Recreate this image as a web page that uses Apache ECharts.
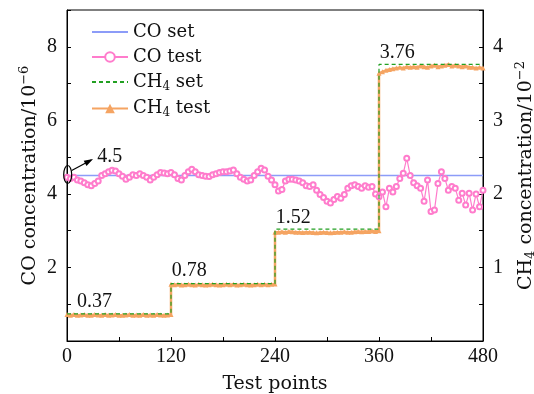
<!DOCTYPE html>
<html><head><meta charset="utf-8">
<script src="https://cdn.jsdelivr.net/npm/echarts@6/dist/echarts.min.js"></script>
<style>html,body{margin:0;padding:0;background:#fff}#c{width:534px;height:394px}</style>
</head><body><div id="c"></div>
<script>
// ---- data ----
const xTicks = [0, 120, 240, 360, 480];
const coSetValue = 4.5;
const coTestStep = 4;
const coTest = [4.45,4.42,4.45,4.38,4.35,4.3,4.25,4.22,4.28,4.35,4.5,4.55,4.6,4.64,4.62,4.55,4.48,4.4,4.45,4.52,
4.5,4.55,4.5,4.45,4.38,4.45,4.52,4.58,4.57,4.55,4.58,4.52,4.42,4.38,4.5,4.6,4.67,4.6,4.52,4.5,
4.48,4.47,4.52,4.55,4.58,4.6,4.6,4.62,4.65,4.55,4.45,4.4,4.35,4.38,4.5,4.6,4.7,4.65,4.48,4.38,
4.25,4.08,4.12,4.35,4.4,4.4,4.38,4.35,4.3,4.22,4.2,4.25,4.1,3.98,3.9,3.8,3.75,3.85,3.93,3.88,
3.98,4.15,4.22,4.25,4.2,4.15,4.22,4.18,4.2,4.0,3.92,4.05,3.65,4.15,4.05,4.2,4.42,4.56,4.97,4.5,
4.3,4.22,4.15,3.8,4.38,3.52,3.56,4.28,4.6,4.42,4.1,4.2,4.15,3.83,4.02,3.7,4.02,3.56,4.0,3.65,4.1];
const ch4SetLevels = [0.37, 0.78, 1.52, 3.76];
const ch4SegmentStarts = [0, 120, 240, 360];
const ch4TestStep = 4;
const ch4Test1 = [0.36,0.35,0.36,0.35,0.355,0.36,0.35,0.35,0.36,0.355,0.35,0.36,0.35,0.355,0.36,0.35,0.35,0.355,0.36,0.35,0.355,0.35,0.36,0.35,0.355,0.35,0.36,0.355,0.35,0.355,0.36];
const ch4Test2 = [0.77,0.765,0.77,0.76,0.765,0.77,0.765,0.76,0.77,0.765,0.76,0.765,0.77,0.765,0.76,0.765,0.77,0.765,0.77,0.76,0.765,0.77,0.765,0.76,0.765,0.77,0.765,0.77,0.765,0.77,0.775];
const ch4Test3 = [1.48,1.48,1.485,1.48,1.49,1.485,1.48,1.48,1.475,1.48,1.48,1.475,1.47,1.475,1.48,1.475,1.47,1.475,1.48,1.48,1.485,1.48,1.48,1.485,1.49,1.485,1.49,1.49,1.495,1.49,1.5];
const ch4Test4 = [3.64,3.66,3.68,3.69,3.7,3.71,3.72,3.71,3.73,3.72,3.73,3.72,3.74,3.73,3.72,3.74,3.75,3.73,3.74,3.75,3.76,3.74,3.75,3.74,3.73,3.74,3.72,3.72,3.71,3.72,3.71];
const annotations = [
  {text:'0.37', x:11.5, y:0.53, axis:1},
  {text:'0.78', x:121, y:0.95, axis:1},
  {text:'1.52', x:241, y:1.67, axis:1},
  {text:'3.76', x:361, y:3.915, axis:1},
  {text:'4.5', x:35, y:5.0, axis:0}
];

// ---- build series data ----
const coTestData = coTest.map((v,i)=>[i*coTestStep, v]);
const coSetData = [[0, coSetValue],[480, coSetValue]];
const ch4SetData = [];
ch4SegmentStarts.forEach((s,i)=>{ ch4SetData.push([s, ch4SetLevels[i]]); ch4SetData.push([s+120, ch4SetLevels[i]]); });
const ch4TestData = [];
[ch4Test1,ch4Test2,ch4Test3,ch4Test4].forEach((arr,k)=>{
  arr.forEach((v,i)=>ch4TestData.push([ch4SegmentStarts[k]+i*ch4TestStep, v]));
});

const FONT = 'DejaVu Serif';
const NUMFONT = 'Liberation Serif';
const chart = echarts.init(document.getElementById('c'), null, {renderer:'canvas'});
const axisCommon = {
  axisLine:{show:true, lineStyle:{color:'#000', width:1}},
  axisTick:{show:true, inside:true, length:4, lineStyle:{color:'#000'}},
  splitLine:{show:false},
  axisLabel:{color:'#111', fontFamily:NUMFONT, fontSize:20}
};
const COLORS = {coSet:'#8c9cf8', coTest:'#ff7ccc', ch4Set:'#22a022', ch4Test:'#f5a462'};
const nameRich = {
  n:{fontFamily:FONT, fontSize:19, fill:'#111', color:'#111'},
  s:{fontFamily:FONT, fontSize:13, fill:'#111', color:'#111', padding:[0,0,11,0]},
  b:{fontFamily:FONT, fontSize:13, fill:'#111', color:'#111', padding:[9,0,0,0]}
};
chart.setOption({
  animation:false,
  grid:{left:67, right:51, top:10, bottom:53, show:true, borderColor:'#000', borderWidth:1, containLabel:false, outerBoundsMode:'none'},
  legend:{
    orient:'vertical', left:86, top:18, itemWidth:36, itemHeight:12, itemGap:7,
    textStyle:{fontFamily:FONT, fontSize:18, color:'#111',
      rich:{n:{fontFamily:FONT, fontSize:18, color:'#111'}, s:{fontFamily:FONT, fontSize:12, color:'#111', padding:[9,0,0,0]}}},
    formatter: function(name){
      if(name.indexOf('CH4')===0) return '{n|CH}{s|4}{n|'+name.slice(3)+'}';
      return '{n|'+name+'}';
    },
    data:[{name:'CO set', itemStyle:{opacity:0}},{name:'CO test'},{name:'CH4 set', itemStyle:{opacity:0}},{name:'CH4 test'}]
  },
  xAxis:Object.assign({}, axisCommon, {
    type:'value', min:0, max:480, interval:60,
    name:'Test points', nameLocation:'middle', nameGap:34,
    nameTextStyle:{fontFamily:FONT, fontSize:19, color:'#111'},
    axisLabel:Object.assign({}, axisCommon.axisLabel, {margin:6, formatter:v=>xTicks.indexOf(v)>=0?String(v):''})
  }),
  yAxis:[
    Object.assign({}, axisCommon, {
      type:'value', min:0, max:9, interval:1,
      axisLabel:Object.assign({}, axisCommon.axisLabel, {margin:10, formatter:v=>(v%2===0&&v>0)?String(v):''})
    }),
    Object.assign({}, axisCommon, {
      type:'value', min:0, max:4.5, interval:0.5, position:'right',
      axisLabel:Object.assign({}, axisCommon.axisLabel, {margin:10, formatter:v=>(Number.isInteger(v)&&v>0)?String(v):''})
    })
  ],
  series:[
    {name:'CO set', type:'line', data:coSetData, symbol:'circle', showSymbol:false, lineStyle:{color:COLORS.coSet, width:1.3}, itemStyle:{color:COLORS.coSet}, z:2},
    {name:'CO test', type:'line', data:coTestData, symbol:'emptyCircle', symbolSize:5,
      lineStyle:{color:COLORS.coTest, width:1.2}, itemStyle:{color:COLORS.coTest, borderWidth:1.2}, z:3},
    {name:'CH4 test', type:'line', yAxisIndex:1, data:ch4TestData, symbol:'triangle', symbolSize:5,
      lineStyle:{color:COLORS.ch4Test, width:2.5}, itemStyle:{color:COLORS.ch4Test}, z:3},
    {name:'CH4 set', type:'line', yAxisIndex:1, data:ch4SetData, symbol:'circle', showSymbol:false,
      lineStyle:{color:COLORS.ch4Set, width:1.2, type:[4,3]}, itemStyle:{color:COLORS.ch4Set}, z:4}
  ]
});

// annotations, axis titles & ellipse/arrow placed via the library's coordinate conversion
const g = [];
annotations.forEach(a=>{
  const p = chart.convertToPixel({xAxisIndex:0, yAxisIndex:a.axis}, [a.x, a.y]);
  g.push({type:'text', x:p[0], y:p[1], z:100, style:{text:a.text, fontFamily:NUMFONT, fontSize:20, fill:'#111', textAlign:'left', textVerticalAlign:'middle'}});
});
const leftMid = chart.convertToPixel({xAxisIndex:0, yAxisIndex:0}, [0, 4.5]);
const rightMid = chart.convertToPixel({xAxisIndex:0, yAxisIndex:1}, [480, 2.25]);
g.push({type:'text', x:leftMid[0]-37, y:leftMid[1], rotation:Math.PI/2, z:100,
  style:{text:'{n|CO concentration/10}{s|−6}', rich:nameRich, align:'center', verticalAlign:'middle', textAlign:'center', textVerticalAlign:'middle'}});
g.push({type:'text', x:rightMid[0]+43, y:rightMid[1], rotation:Math.PI/2, z:100,
  style:{text:'{n|CH}{b|4}{n| concentration/10}{s|−2}', rich:nameRich, align:'center', verticalAlign:'middle', textAlign:'center', textVerticalAlign:'middle'}});
const c0 = chart.convertToPixel({xAxisIndex:0, yAxisIndex:0}, [0.8, coSetValue]);
g.push({type:'ellipse', shape:{cx:c0[0], cy:c0[1]-1, rx:4, ry:9}, z:100, style:{fill:'none', stroke:'#000', lineWidth:1.2}});
const a1 = chart.convertToPixel({xAxisIndex:0, yAxisIndex:0}, [28, 4.92]);
const s0 = [c0[0]+4, c0[1]-5];
g.push({type:'line', shape:{x1:s0[0], y1:s0[1], x2:a1[0], y2:a1[1]}, z:100, style:{stroke:'#000', lineWidth:1.2}});
const ang = Math.atan2(a1[1]-s0[1], a1[0]-s0[0]);
const L=7, W=3;
const bx=a1[0]-L*Math.cos(ang), by=a1[1]-L*Math.sin(ang);
g.push({type:'polygon', z:100, shape:{points:[[a1[0]+2*Math.cos(ang),a1[1]+2*Math.sin(ang)],[bx-W*Math.sin(ang),by+W*Math.cos(ang)],[bx+W*Math.sin(ang),by-W*Math.cos(ang)]]}, style:{fill:'#000'}});
chart.setOption({graphic:g});
</script></body></html>
